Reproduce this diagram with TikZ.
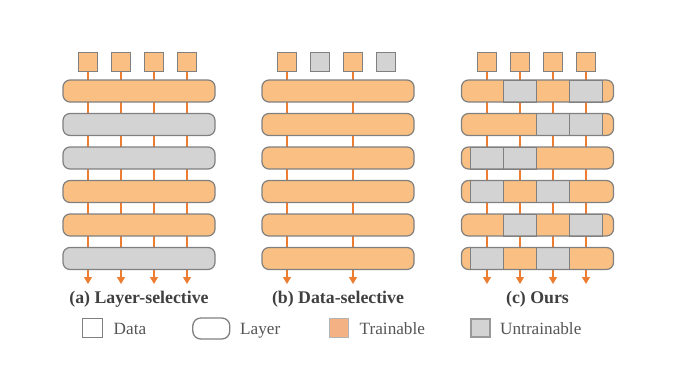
\documentclass[tikz,border=0pt]{standalone}
\usepackage{fontspec}
\setmainfont{Liberation Serif}
\usetikzlibrary{arrows.meta}
\definecolor{orfill}{RGB}{249,191,131}
\definecolor{grfill}{RGB}{211,211,211}
\definecolor{bord}{RGB}{128,128,128}
\definecolor{lineor}{RGB}{237,125,49}
\definecolor{legor}{RGB}{244,177,131}
\definecolor{titlecol}{RGB}{64,64,64}
\definecolor{legcol}{RGB}{85,85,85}
\begin{document}
\begin{tikzpicture}[x=1pt,y=-1pt,
  datasq/.style={draw=bord, line width=1.2pt, minimum size=19.5pt, inner sep=0pt},
  layerbar/.style={draw=bord, line width=1.2pt, rounded corners=7pt, minimum width=152pt, minimum height=22pt, inner sep=0pt},
  barfill/.style={rounded corners=7pt, minimum width=152pt, minimum height=22pt, inner sep=0pt},
  cellbox/.style={draw=bord, line width=1pt, fill=grfill, minimum width=33pt, minimum height=22pt, inner sep=0pt},
  flowarr/.style={draw=lineor, line width=1.3pt, -{Triangle[width=8pt,length=7pt]}},
  paneltitle/.style={font=\fontsize{17.8}{20}\selectfont\bfseries, text=titlecol, inner sep=0pt, anchor=base},
  legtext/.style={font=\fontsize{17.2}{20}\selectfont, text=legcol, inner sep=0pt, anchor=base west},
]
\useasboundingbox (0,0) rectangle (675,367);

% ---------- Panel (a) ----------
\foreach \k/\cx in {1/88,2/121,3/154,4/187}{
  \node[datasq, fill=orfill] (a-d\k) at (\cx,62) {};
  \coordinate (a-e\k) at (\cx,284);
  \draw[flowarr] (a-d\k) -- (a-e\k);
}
\foreach \i/\fc in {0/orfill,1/grfill,2/grfill,3/orfill,4/orfill,5/grfill}{
  \node[layerbar, fill=\fc] (a-l\i) at (139,91+33.5*\i) {};
}
\node[paneltitle] (a-t) at (139,303) {(a) Layer-selective};

% ---------- Panel (b) ----------
\foreach \k/\cx/\fc in {1/287/orfill,2/320/grfill,3/353/orfill,4/386/grfill}{
  \node[datasq, fill=\fc] (b-d\k) at (\cx,62) {};
}
\foreach \k/\cx in {1/287,3/353}{
  \coordinate (b-e\k) at (\cx,284);
  \draw[flowarr] (b-d\k) -- (b-e\k);
}
\foreach \i in {0,...,5}{
  \node[layerbar, fill=orfill] (b-l\i) at (338,91+33.5*\i) {};
}
\node[paneltitle] (b-t) at (338,303) {(b) Data-selective};

% ---------- Panel (c) ----------
\foreach \k/\cx in {1/487,2/520,3/553,4/586}{
  \node[datasq, fill=orfill] (c-d\k) at (\cx,62) {};
  \coordinate (c-e\k) at (\cx,284);
  \draw[flowarr] (c-d\k) -- (c-e\k);
}
\foreach \i/\ga/\gb/\gc/\gd in {0/0/1/0/1,1/0/0/1/1,2/1/1/0/0,3/1/0/1/0,4/0/1/0/1,5/1/0/1/0}{
  \node[barfill, fill=orfill] (c-f\i) at (537.5,91+33.5*\i) {};
  \foreach \k/\cx/\g in {1/487/\ga,2/520/\gb,3/553/\gc,4/586/\gd}{
    \ifnum\g=1
      \node[cellbox] (c-g\i-\k) at (\cx,91+33.5*\i) {};
    \fi
  }
  \node[layerbar] (c-l\i) at (537.5,91+33.5*\i) {};
}
\node[paneltitle] (c-t) at (537.5,303) {(c) Ours};

% ---------- Legend ----------
\node[draw=bord, line width=1.3pt, fill=white, minimum size=19.5pt, inner sep=0pt] (lg-d) at (92.5,328) {};
\node[legtext] (lg-dt) at (113.5,334) {Data};
\node[draw=bord, line width=1.3pt, fill=white, rounded corners=8pt, minimum width=37pt, minimum height=21pt, inner sep=0pt] (lg-l) at (211.3,328.5) {};
\node[legtext] (lg-lt) at (240,334) {Layer};
\node[draw=grfill!85!black, line width=1.8pt, fill=legor, minimum size=19pt, inner sep=0pt] (lg-t) at (339,328) {};
\node[legtext] (lg-tt) at (359.5,334) {Trainable};
\node[draw=bord!80!white, line width=1.8pt, fill=grfill, minimum size=18.5pt, inner sep=0pt] (lg-u) at (480.6,328) {};
\node[legtext] (lg-ut) at (500,334) {Untrainable};
\end{tikzpicture}
\end{document}
